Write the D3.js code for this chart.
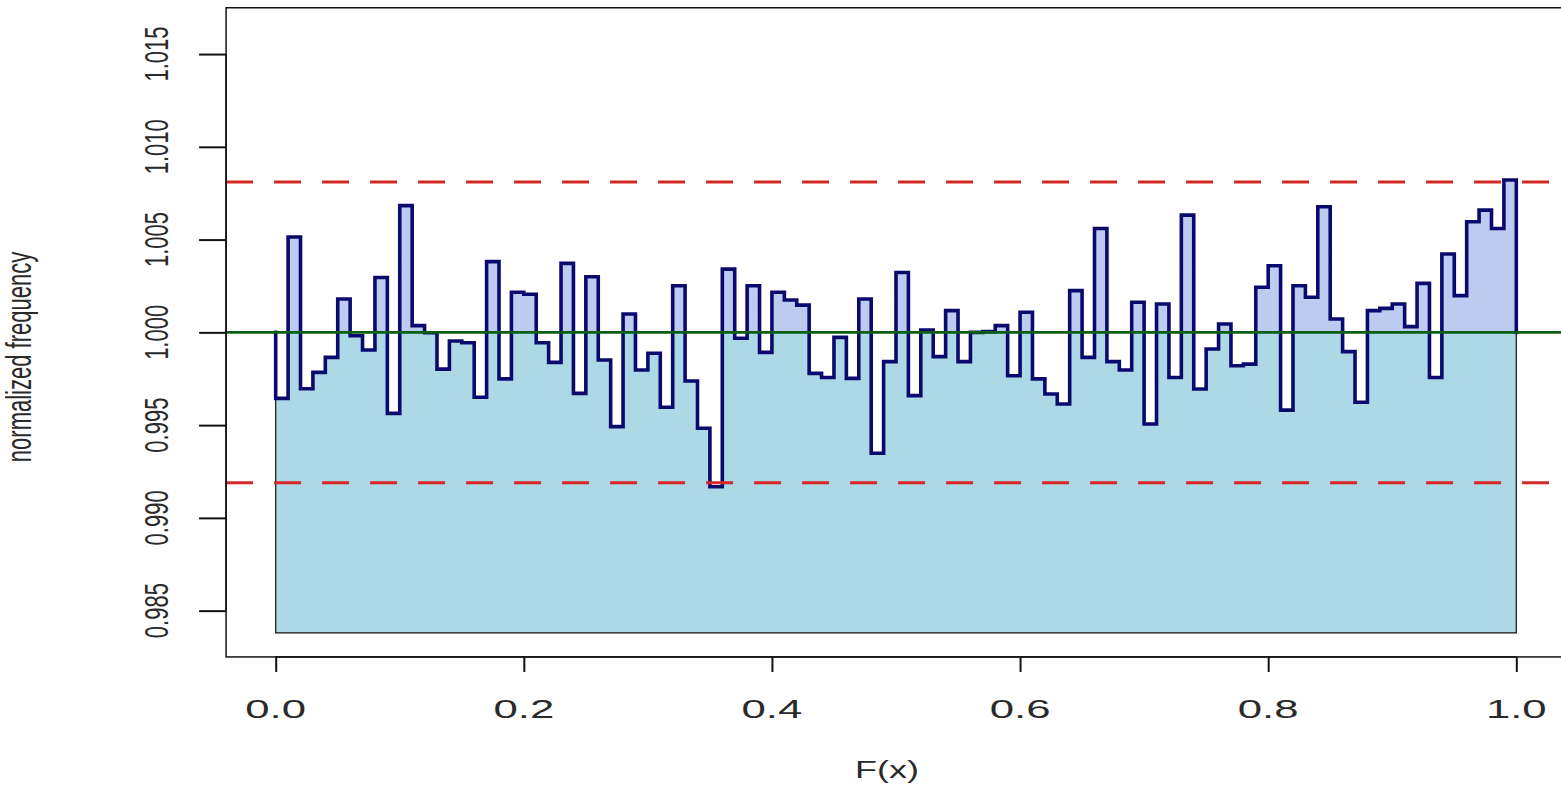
<!DOCTYPE html>
<html>
<head>
<meta charset="utf-8">
<script src="https://cdn.jsdelivr.net/npm/d3@7"></script>
<style>
  html, body { margin: 0; padding: 0; background: #ffffff; }
  svg { display: block; }
  text { font-family: "Liberation Sans", Arial, sans-serif; fill: #2a2a2a; }
</style>
</head>
<body>
<svg id="chart" width="1561" height="789"></svg>
<script>
// Normalized frequency of each of the 100 equal-width bins of F(x)
const binValues = [
  0.99644, 1.00514, 0.99696, 0.99784, 0.99865, 1.00180, 0.99982, 0.99905, 1.00296, 0.99563,
  1.00683, 1.00036, 0.99998, 0.99802, 0.99953, 0.99944, 0.99650, 1.00381, 0.99749, 1.00216,
  1.00205, 0.99944, 0.99838, 1.00372, 0.99671, 1.00300, 0.99851, 0.99492, 1.00099, 0.99797,
  0.99887, 0.99596, 1.00251, 0.99738, 0.99483, 0.99168, 1.00341, 0.99968, 1.00251, 0.99892,
  1.00216, 1.00174, 1.00147, 0.99779, 0.99757, 0.99973, 0.99752, 1.00180, 0.99348, 0.99842,
  1.00323, 0.99659, 1.00013, 0.99869, 1.00117, 0.99842, 1.00000, 1.00004, 1.00036, 0.99766,
  1.00108, 0.99749, 0.99668, 0.99614, 1.00225, 0.99865, 1.00560, 0.99842, 0.99797, 1.00162,
  0.99506, 1.00153, 0.99757, 1.00632, 0.99695, 0.99910, 1.00045, 0.99820, 0.99829, 1.00243,
  1.00359, 0.99581, 1.00251, 1.00189, 1.00677, 1.00072, 0.99896, 0.99623, 1.00117, 1.00129,
  1.00153, 1.00031, 1.00264, 0.99757, 1.00422, 1.00198, 1.00596, 1.00659, 1.00560, 1.00821
];

// Expected level and the acceptance band around it
const expectedLevel = 1.0;
const bandLines = [0.9919, 1.0081];

// Plot limits
const xLimits = [0, 1];
const yLimits = [0.9838, 1.0162];

// Axis ticks
const xTicks = [0.0, 0.2, 0.4, 0.6, 0.8, 1.0];
const xTickLabels = ["0.0", "0.2", "0.4", "0.6", "0.8", "1.0"];
const yTicks = [0.985, 0.990, 0.995, 1.000, 1.005, 1.010, 1.015];
const yTickLabels = ["0.985", "0.990", "0.995", "1.000", "1.005", "1.010", "1.015"];

const xTitle = "F(x)";
const yTitle = "normalized frequency";

// ---------------------------------------------------------------
const svg = d3.select("#chart");

const x = d3.scaleLinear().domain(xLimits).range([275.7, 1516.3]);
const y = d3.scaleLinear().domain(yLimits).range([632.9, 31.8]);

// Plot frame extends 4% past the limits on every side
const xPad = 0.04 * (xLimits[1] - xLimits[0]);
const yPad = 0.04 * (yLimits[1] - yLimits[0]);
const frame = {
  x0: x(xLimits[0] - xPad), x1: x(xLimits[1] + xPad),
  y0: y(yLimits[1] + yPad), y1: y(yLimits[0] - yPad)
};

const nBins = binValues.length;
const binWidth = (xLimits[1] - xLimits[0]) / nBins;
const bins = binValues.map((v, i) => ({
  x0: xLimits[0] + i * binWidth,
  x1: xLimits[0] + (i + 1) * binWidth,
  v
}));

const plot = svg.append("g");
svg.append("clipPath").attr("id", "frameClip")
  .append("rect")
  .attr("x", frame.x0).attr("y", frame.y0)
  .attr("width", frame.x1 - frame.x0).attr("height", frame.y1 - frame.y0);

// Filled histogram body, from the lower limit up to each bin's value
const stepPts = [];
bins.forEach(b => { stepPts.push([b.x0, b.v]); stepPts.push([b.x1, b.v]); });

const body = d3.area()
  .x(d => x(d[0]))
  .y0(y(yLimits[0]))
  .y1(d => y(d[1]));
plot.append("path")
  .datum(stepPts)
  .attr("d", body)
  .attr("fill", "#add8e6")
  .attr("stroke", "#111")
  .attr("stroke-width", 1.2);

// Deviation from the expected level: excess tinted, deficit cleared
plot.append("g").selectAll("rect")
  .data(bins)
  .join("rect")
  .attr("x", d => x(d.x0))
  .attr("width", d => x(d.x1) - x(d.x0) + 0.4)
  .attr("y", d => y(Math.max(d.v, expectedLevel)))
  .attr("height", d => Math.abs(y(d.v) - y(expectedLevel)))
  .attr("fill", d => d.v > expectedLevel ? "#bdcbf1" : "#ffffff");

// Step outline starting and ending on the expected level
const outline = [[xLimits[0], expectedLevel]].concat(stepPts, [[xLimits[1], expectedLevel]]);
plot.append("path")
  .datum(outline)
  .attr("d", d3.line().x(d => x(d[0])).y(d => y(d[1])))
  .attr("fill", "none")
  .attr("stroke", "#0a0a6e")
  .attr("stroke-width", 3.6)
  .attr("stroke-linejoin", "miter")
  .attr("stroke-linecap", "square");

// Band limits and expected level across the whole frame
const refs = svg.append("g").attr("clip-path", "url(#frameClip)");
refs.selectAll("line.band")
  .data(bandLines)
  .join("line")
  .attr("class", "band")
  .attr("x1", frame.x0).attr("x2", frame.x1)
  .attr("y1", d => y(d)).attr("y2", d => y(d))
  .attr("stroke", "#d62828")
  .attr("stroke-width", 3)
  .attr("stroke-dasharray", "27 21");
refs.append("line")
  .attr("x1", frame.x0).attr("x2", frame.x1)
  .attr("y1", y(expectedLevel)).attr("y2", y(expectedLevel))
  .attr("stroke", "#0b5e12")
  .attr("stroke-width", 2.6);

// Frame
svg.append("rect")
  .attr("x", frame.x0).attr("y", frame.y0)
  .attr("width", frame.x1 - frame.x0).attr("height", frame.y1 - frame.y0)
  .attr("fill", "none")
  .attr("stroke", "#111")
  .attr("stroke-width", 1.5);

// X axis (below the frame)
const xAxis = svg.append("g").attr("transform", `translate(0,${frame.y1})`)
  .call(d3.axisBottom(x).tickValues(xTicks).tickSize(15).tickFormat(() => ""));
xAxis.select(".domain")
  .attr("d", `M${x(xTicks[0])},0H${x(xTicks[xTicks.length - 1])}`)
  .attr("stroke", "#111").attr("stroke-width", 1.5);
xAxis.selectAll(".tick line").attr("stroke", "#111").attr("stroke-width", 2);

svg.append("g").selectAll("text")
  .data(xTicks)
  .join("text")
  .attr("transform", d => `translate(${x(d)},718) scale(1.75,1)`)
  .attr("text-anchor", "middle")
  .style("font-size", "25px")
  .text((d, i) => xTickLabels[i]);

// Y axis (left of the frame)
const yAxis = svg.append("g").attr("transform", `translate(${frame.x0},0)`)
  .call(d3.axisLeft(y).tickValues(yTicks).tickSize(27).tickFormat(() => ""));
yAxis.select(".domain")
  .attr("d", `M0,${y(yTicks[0])}V${y(yTicks[yTicks.length - 1])}`)
  .attr("stroke", "#111").attr("stroke-width", 1.5);
yAxis.selectAll(".tick line").attr("stroke", "#111").attr("stroke-width", 2);

svg.append("g").selectAll("text")
  .data(yTicks)
  .join("text")
  .attr("transform", d => `translate(168,${y(d)}) scale(1.55,1) rotate(-90)`)
  .attr("text-anchor", "middle")
  .style("font-size", "22px")
  .text((d, i) => yTickLabels[i]);

// Axis titles
svg.append("text")
  .attr("transform", `translate(887,778) scale(1.5,1)`)
  .attr("text-anchor", "middle")
  .style("font-size", "24px")
  .text(xTitle);

svg.append("text")
  .attr("transform", `translate(31,357) scale(1.6,1) rotate(-90)`)
  .attr("text-anchor", "middle")
  .style("font-size", "22px")
  .text(yTitle);
</script>
</body>
</html>
